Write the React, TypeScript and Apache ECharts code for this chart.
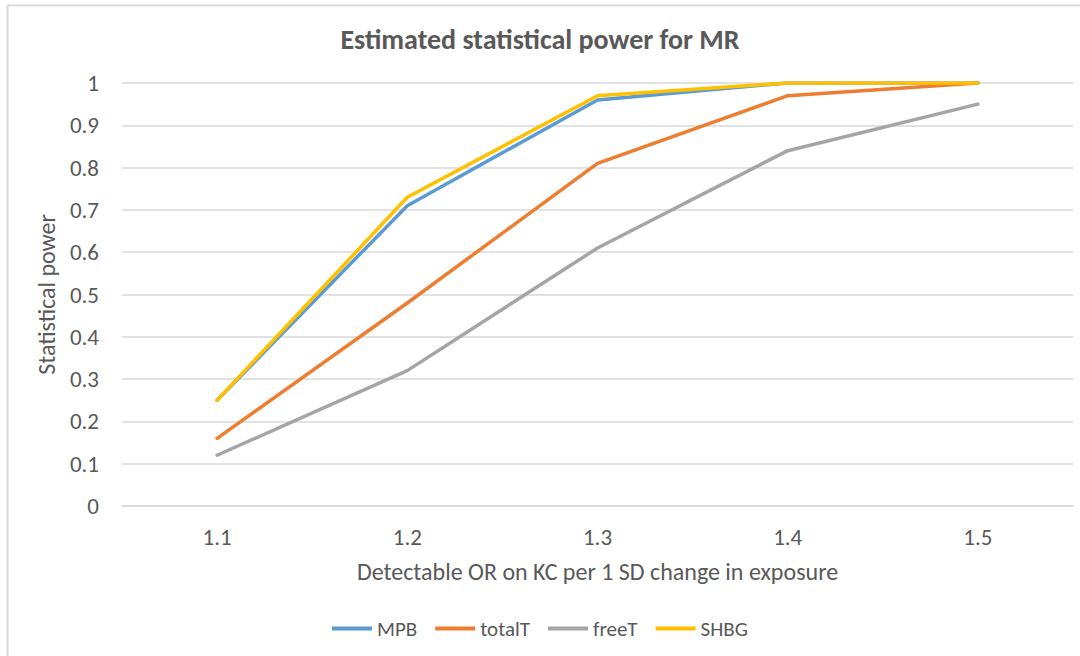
import React, { useEffect, useRef } from "react";
import * as echarts from "echarts";

const categories = ["1.1", "1.2", "1.3", "1.4", "1.5"];
const mpb = [0.25, 0.71, 0.96, 1.0, 1.0];
const totalT = [0.16, 0.48, 0.81, 0.97, 1.0];
const freeT = [0.12, 0.32, 0.61, 0.84, 0.95];
const shbg = [0.25, 0.73, 0.97, 1.0, 1.0];

const FONT = "Carlito, 'Open Sans', 'Noto Sans', sans-serif";

export default function App() {
  const ref = useRef<HTMLDivElement>(null);
  useEffect(() => {
    if (!ref.current) return;
    const chart = echarts.init(ref.current, undefined, { renderer: "svg" });
    const mk = (name: string, data: number[], color: string) => ({
      name,
      type: "line",
      data,
      symbol: "none",
      lineStyle: { color, width: 3.5, cap: "round", join: "round" },
      itemStyle: { color },
    });
    chart.setOption({
      animation: false,
      backgroundColor: "#ffffff",
      textStyle: { fontFamily: FONT },
      title: {
        text: "Estimated statistical power for MR",
        left: "center",
        top: 20,
        textStyle: { fontFamily: FONT, fontSize: 28, fontWeight: "bold", color: "#595959" },
      },
      legend: {
        bottom: 12,
        left: "center",
        itemWidth: 40,
        itemHeight: 4,
        itemGap: 18,
        icon: "rect",
        textStyle: { fontFamily: FONT, fontSize: 21, color: "#595959" },
        data: ["MPB", "totalT", "freeT", "SHBG"],
      },
      grid: { left: 122, right: 7, top: 83, bottom: 150, containLabel: false },
      xAxis: {
        type: "category",
        data: categories,
        boundaryGap: true,
        name: "Detectable OR on KC per 1 SD change in exposure",
        nameLocation: "middle",
        nameGap: 53,
        nameTextStyle: { fontFamily: FONT, fontSize: 24, color: "#595959" },
        axisLine: { show: true, lineStyle: { color: "#d9d9d9", width: 1.5 } },
        axisTick: { show: false },
        axisLabel: { fontFamily: FONT, fontSize: 23, color: "#595959", margin: 19 },
        splitLine: { show: false },
      },
      yAxis: {
        type: "value",
        min: 0,
        max: 1,
        interval: 0.1,
        name: "Statistical power",
        nameLocation: "middle",
        nameGap: 59,
        nameRotate: 90,
        nameTextStyle: { fontFamily: FONT, fontSize: 24, color: "#595959" },
        axisLine: { show: false },
        axisTick: { show: false },
        axisLabel: {
          fontFamily: FONT,
          fontSize: 23,
          color: "#595959",
          margin: 23,
          formatter: (v: number) => String(Math.round(v * 10) / 10),
        },
        splitLine: { show: true, lineStyle: { color: "#d9d9d9", width: 1.5 } },
      },
      graphic: [
        {
          type: "polyline",
          shape: { points: [[7.5, 656], [7.5, 5.5], [1080, 5.5]] },
          style: { stroke: "#d9d9d9", lineWidth: 2, fill: "none" },
          silent: true,
        },
      ],
      series: [
        mk("MPB", mpb, "#5b9bd5"),
        mk("totalT", totalT, "#ed7d31"),
        mk("freeT", freeT, "#a5a5a5"),
        mk("SHBG", shbg, "#ffc000"),
      ],
    });
    return () => chart.dispose();
  }, []);
  return (
    <div
      ref={ref}
      style={{ position: "fixed", left: 0, top: 0, width: 1080, height: 656 }}
    />
  );
}
